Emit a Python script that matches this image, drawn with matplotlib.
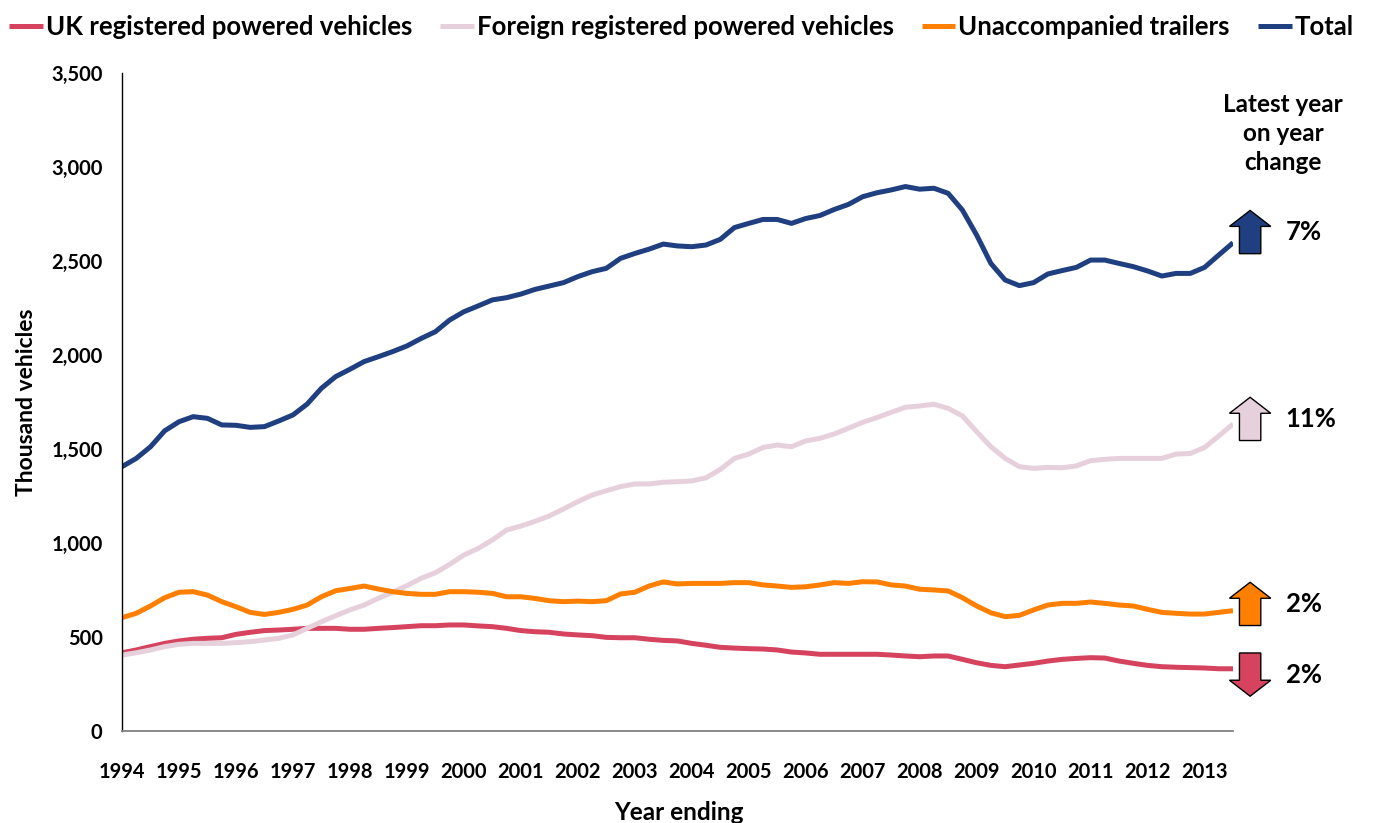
import matplotlib
matplotlib.use("Agg")
from matplotlib import pyplot as plt
from matplotlib.patches import FancyArrow
from matplotlib.ticker import FuncFormatter

plt.rcParams['font.family'] = ['Lato', 'DejaVu Sans']
plt.rcParams['font.weight'] = 'bold'

# quarterly values, thousand vehicles, 1994 Q1 .. 2013 Q3
year_labels = [str(y) for y in range(1994, 2014)]

uk_vehicles = [416, 431, 449, 466, 479, 488, 493, 496, 514, 525, 534, 537, 541, 546, 546, 546,
               541, 541, 546, 550, 555, 560, 560, 564, 564, 559, 555, 546, 534, 528, 525, 516,
               511, 507, 498, 496, 496, 488, 482, 479, 466, 456, 445, 441, 438, 436, 431, 420,
               415, 408, 408, 408, 408, 408, 404, 399, 395, 399, 399, 381, 363, 349, 342, 351,
               360, 372, 381, 386, 390, 388, 372, 360, 349, 342, 339, 337, 335, 331, 331]

foreign_vehicles = [404, 416, 431, 449, 461, 466, 466, 466, 470, 475, 484, 493, 511, 546, 581, 613,
                    644, 670, 706, 738, 773, 812, 842, 886, 936, 971, 1016, 1069, 1090, 1115, 1144, 1181,
                    1220, 1255, 1278, 1300, 1314, 1314, 1323, 1326, 1330, 1347, 1391, 1450, 1473, 1508, 1521, 1512,
                    1543, 1557, 1580, 1610, 1642, 1667, 1695, 1722, 1729, 1738, 1716, 1676, 1592, 1512, 1450, 1406,
                    1397, 1402, 1400, 1410, 1438, 1445, 1450, 1450, 1450, 1450, 1473, 1476, 1508, 1569, 1633]

trailers = [603, 626, 665, 709, 738, 741, 723, 688, 661, 631, 620, 631, 647, 670, 714, 746,
            758, 771, 755, 741, 732, 727, 727, 741, 741, 738, 732, 714, 714, 705, 693, 688,
            691, 688, 693, 729, 738, 771, 793, 782, 785, 785, 785, 789, 789, 777, 771, 764,
            767, 777, 789, 785, 794, 793, 777, 771, 754, 750, 745, 709, 665, 629, 608, 615,
            644, 670, 679, 679, 686, 679, 670, 665, 647, 631, 626, 622, 622, 631, 640]

total = [1406, 1450, 1512, 1597, 1645, 1672, 1663, 1628, 1626, 1615, 1619, 1649, 1681, 1739, 1823, 1885,
         1924, 1965, 1991, 2018, 2048, 2088, 2124, 2186, 2230, 2261, 2293, 2305, 2324, 2349, 2367, 2385,
         2417, 2443, 2461, 2514, 2540, 2563, 2590, 2580, 2576, 2585, 2615, 2678, 2700, 2721, 2721, 2700,
         2726, 2742, 2774, 2801, 2842, 2863, 2878, 2896, 2882, 2887, 2860, 2771, 2638, 2487, 2399, 2369,
         2385, 2431, 2449, 2466, 2505, 2505, 2487, 2470, 2447, 2420, 2434, 2434, 2466, 2532, 2597]

series_names = ['UK registered powered vehicles', 'Foreign registered powered vehicles',
                'Unaccompanied trailers', 'Total']
yoy_change = [-2, 11, 2, 7]   # latest year on year change, %

colors = ['#D5435F', '#E6D0DC', '#FF8000', '#203F80']
LINEWIDTH = 3.6

fig = plt.figure(figsize=(13.74, 8.23), dpi=100)
ax = fig.add_axes([0.0888, 0.1118, 0.8086, 0.7995])

x = list(range(len(total)))
all_series = [uk_vehicles, foreign_vehicles, trailers, total]
for vals, name, c in zip(all_series, series_names, colors):
    ax.plot(x, vals, color=c, linewidth=LINEWIDTH, label=name, solid_capstyle='butt')

ax.set_xlim(0, len(total) - 1)
ax.set_ylim(0, 3500)
ax.set_yticks(range(0, 3501, 500))
ax.yaxis.set_major_formatter(FuncFormatter(lambda v, p: '{:,.0f}'.format(v)))
ax.set_xticks(range(0, len(total), 4))
ax.set_xticklabels(year_labels)
ax.tick_params(axis='both', length=0, labelsize=14.5)
ax.tick_params(axis='x', pad=22)
ax.tick_params(axis='y', pad=14)

for s in ['top', 'right']:
    ax.spines[s].set_visible(False)
ax.spines['left'].set_color('black')
ax.spines['left'].set_linewidth(1.0)
ax.spines['bottom'].set_color('#7f7f7f')
ax.spines['bottom'].set_linewidth(1.3)

fig.text(0.494, 0.013, 'Year ending', ha='center', va='center', fontsize=17.5, fontweight='bold')
ax.set_ylabel('Thousand vehicles', fontsize=16.5, fontweight='bold', labelpad=10)

fig.legend(loc='upper center', bbox_to_anchor=(0.496, 1.01), ncol=4, frameon=False,
           fontsize=18.5, handlelength=1.3, handletextpad=0.12, columnspacing=1.1)

# latest year on year change arrows
ax.text(1.045, 0.908, 'Latest year\non year\nchange', transform=ax.transAxes, ha='center', va='center',
        fontsize=17.5, fontweight='bold', linespacing=1.3)
nudges = [-31, 27, 36, 57]
arrow_x = len(total) - 1 + 1.2
arrow_len = 230
for vals, chg, c, nud in zip(all_series, yoy_change, colors, nudges):
    centre = vals[-1] + nud
    if chg >= 0:
        start, dy = centre - arrow_len / 2, arrow_len
    else:
        start, dy = centre + arrow_len / 2, -arrow_len
    arr = FancyArrow(arrow_x, start, 0, dy, width=1.5, head_width=2.9, head_length=85,
                     length_includes_head=True, facecolor=c, edgecolor='black', linewidth=1.0,
                     clip_on=False)
    ax.add_patch(arr)
    ax.text(arrow_x + 2.5, centre, '{}%'.format(abs(chg)), ha='left', va='center',
            fontsize=18.5, fontweight='bold', clip_on=False)

plt.savefig('out.png', dpi=100)
plt.close()
